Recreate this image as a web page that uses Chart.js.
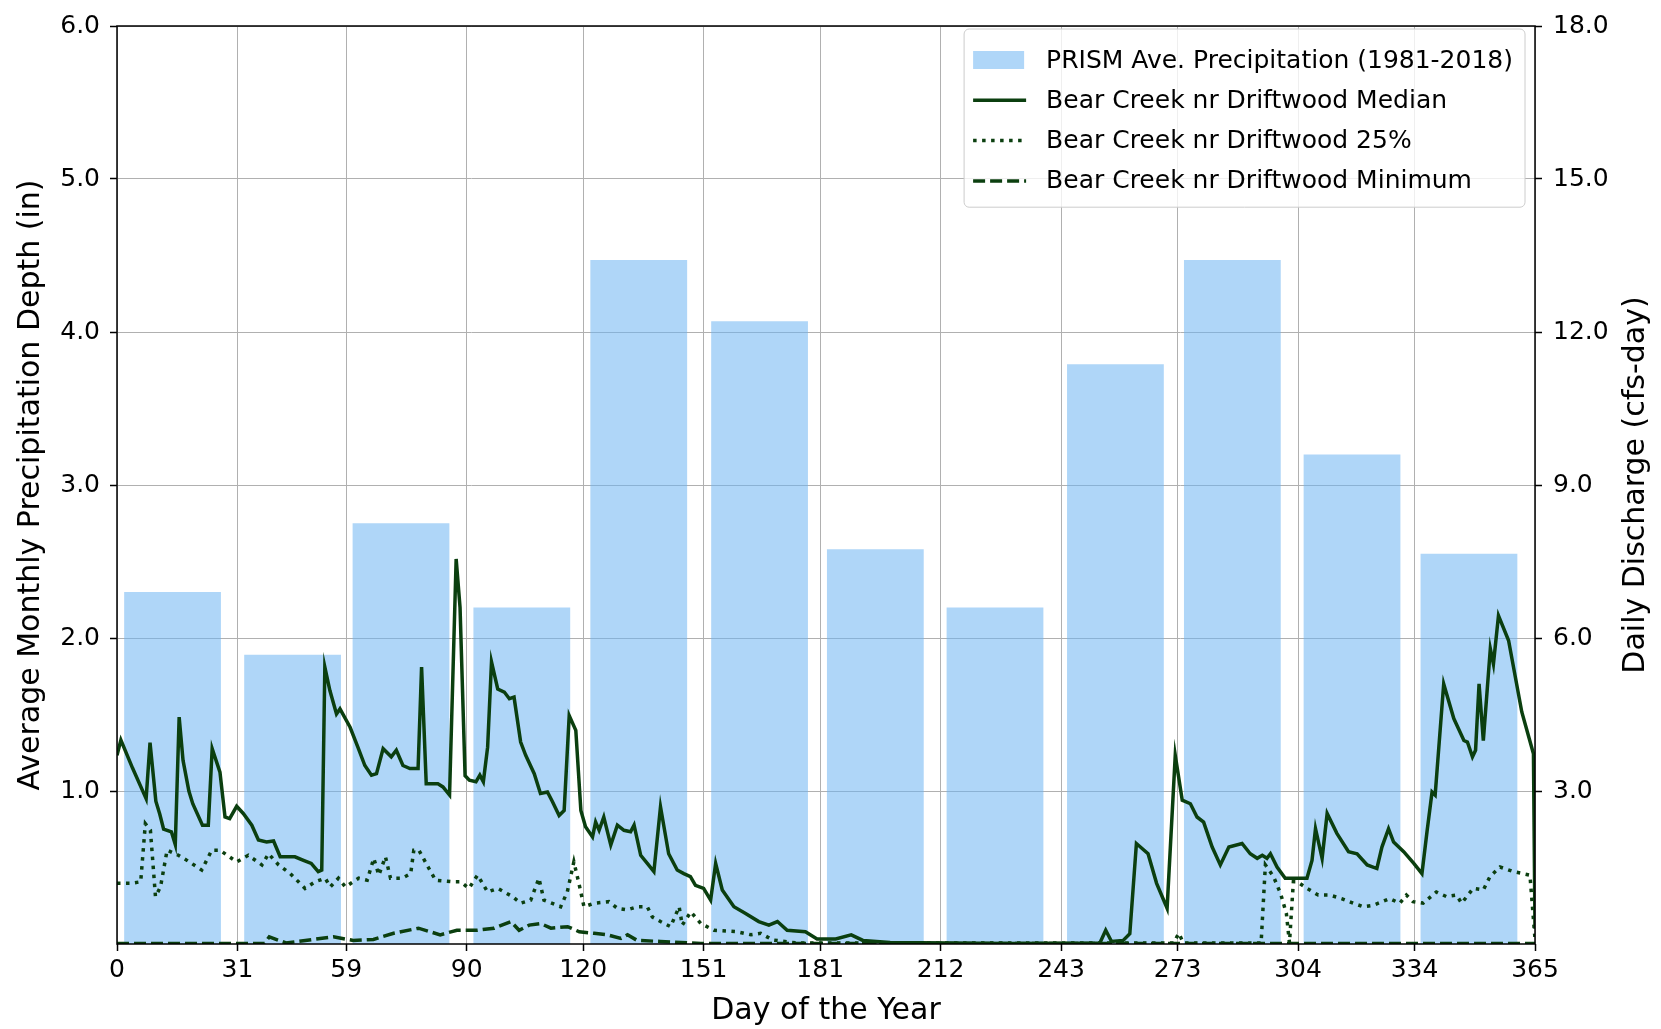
<!DOCTYPE html>
<html>
<head>
<meta charset="utf-8">
<title>Bear Creek nr Driftwood</title>
<script src="https://cdn.jsdelivr.net/npm/chart.js@4.4.1/dist/chart.umd.min.js"></script>
<style>
  html, body { margin: 0; padding: 0; background: #fff; }
  #wrap { width: 1661px; height: 1029px; }
</style>
</head>
<body>
<div id="wrap"><canvas id="myChart" width="1661" height="1029"></canvas></div>
<script>
'use strict';

//Data

let monthStarts = [0, 31, 59, 90, 120, 151, 181, 212, 243, 273, 304, 334, 365];
let leftTicks = [1, 2, 3, 4, 5, 6];
let rightTicks = [3, 6, 9, 12, 15, 18];

//monthly bars, placed by day of year
let barDays = [14.3, 45.2, 73.1, 104.2, 134.3, 165.4, 195.2, 226, 257, 287.1, 317.9, 348];
let precip = [2.30, 1.89, 2.75, 2.20, 4.47, 4.07, 2.58, 2.20, 3.79, 4.47, 3.20, 2.55];

//daily discharge, cfs-day
let medianDays = [0, 1, 4, 7.5, 8.5, 10, 11, 12, 14, 15, 16, 17, 18.5, 19.5, 22, 23.5, 24.5, 26.5, 27.8, 29,
  30.8, 32.5, 34.7, 36.4, 38.5, 40.3, 42, 45.8, 48, 50, 51.8, 52.7, 53.5, 54.8, 56.5, 57.4, 60, 62, 63.8, 65.5,
  66.8, 68.5, 70.6, 71.9, 73.6, 75.4, 77.5, 78.4, 79.6, 82.6, 83.9, 85.6, 87.3, 88.3, 89.6, 90.7, 92.4, 93.4, 94.3, 95.4,
  96.4, 98, 99.7, 101, 102.2, 103.9, 105.2, 107.4, 109, 110.8, 112.1, 113.8, 115.1, 116.4, 118.1, 119.4, 120.6, 122.4, 123.2, 124.1,
  125.3, 127.1, 128.8, 130.5, 132.2, 133.1, 134.8, 136.5, 138.2, 139.9, 142, 144.2, 145.9, 147.6, 148.9, 151, 152.8, 154.1, 155.8, 158.8,
  161.8, 165.2, 167.8, 170, 172.5, 177.2, 180.2, 185, 189, 192, 199, 230, 253, 254.5, 256, 259, 260.7, 262.4, 265.4, 267.6,
  270.3, 272.4, 274.2, 276.3, 278, 279.7, 281.9, 284, 286.2, 289.6, 291.7, 293.5, 294.8, 296, 296.9, 298.6, 300.7, 306.3, 307.6, 308.5,
  310.2, 311.5, 314, 317, 319.2, 321.8, 324.3, 325.6, 327.3, 328.6, 331.2, 333.8, 335.9, 337.2, 338.5, 339.3, 341.5, 344.1, 346.7, 347.6,
  348.9, 349.7, 350.6, 351.7, 353.5, 354.3, 355.6, 358.2, 361.6, 364.6, 365];
let medianFlow = [3.7, 4.0, 3.45, 2.85, 3.95, 2.8, 2.55, 2.25, 2.2, 1.95, 4.45, 3.6, 3.0, 2.75, 2.33, 2.33, 3.83, 3.37, 2.49, 2.46,
  2.7, 2.56, 2.33, 2.04, 2.0, 2.02, 1.71, 1.71, 1.64, 1.58, 1.42, 1.45, 5.43, 4.97, 4.51, 4.61, 4.25, 3.86, 3.5, 3.31,
  3.34, 3.83, 3.67, 3.8, 3.5, 3.44, 3.44, 5.43, 3.14, 3.14, 3.08, 2.92, 7.55, 6.6, 3.3, 3.21, 3.18, 3.31, 3.18, 3.86,
  5.53, 5.0, 4.94, 4.81, 4.84, 3.96, 3.7, 3.34, 2.95, 2.98, 2.79, 2.52, 2.62, 4.48, 4.19, 2.62, 2.3, 2.1, 2.39, 2.23,
  2.49, 1.94, 2.33, 2.23, 2.2, 2.33, 1.74, 1.58, 1.42, 2.69, 1.77, 1.45, 1.38, 1.32, 1.15, 1.09, 0.86, 1.58, 1.06, 0.73,
  0.6, 0.44, 0.37, 0.44, 0.27, 0.24, 0.1, 0.1, 0.18, 0.07, 0.03, 0.01, 0.02, 0.27, 0.05, 0.07, 0.2, 1.97, 1.77, 1.19,
  0.7, 3.7, 2.82, 2.75, 2.49, 2.39, 1.9, 1.55, 1.9, 1.97, 1.77, 1.68, 1.74, 1.68, 1.77, 1.51, 1.29, 1.29, 1.64, 2.26,
  1.68, 2.56, 2.17, 1.81, 1.77, 1.55, 1.48, 1.9, 2.26, 2.0, 1.81, 1.58, 1.38, 2.2, 2.98, 2.92, 5.1, 4.42, 3.99, 3.96,
  3.67, 3.8, 5.1, 3.99, 5.79, 5.49, 6.44, 5.95, 4.55, 3.73, 0.3];

let q25Days = [0, 3.6, 6.1, 7.3, 8.6, 9.9, 11.2, 12.9, 15.8, 18, 21.8, 24.4, 26.5, 30.8, 33.8, 37.3, 39, 41.6, 44.6, 48.4,
  51, 53.6, 54.9, 57, 58.8, 62.2, 64.4, 66.1, 67.4, 69.1, 70.4, 73.4, 75.6, 76.4, 77.7, 80.3, 82, 86.3, 88.5, 90.6,
  92.8, 95.4, 98, 101.8, 103.9, 106.5, 108.6, 109.9, 114.2, 115.9, 117.6, 118.9, 120.2, 122.8, 126.6, 128.8, 131.3, 133.9, 136.5, 137.8,
  139.9, 142.5, 144.7, 145.5, 147.7, 150.3, 153.7, 159.7, 163.2, 165.7, 168.7, 175, 272, 273.3, 274.5, 294.5, 295.6, 297.7, 299.5, 301,
  301.8, 302.8, 303.8, 306.3, 309.2, 312.2, 315.2, 318.2, 320.8, 323.4, 327.6, 330.2, 331.9, 333.6, 336.2, 339.6, 342.2, 344.8, 346.1, 349.1,
  351.7, 353.4, 356, 359.4, 363.7, 365];
let q25Flow = [1.19, 1.19, 1.22, 2.36, 2.23, 0.93, 1.12, 1.84, 1.74, 1.64, 1.45, 1.84, 1.84, 1.61, 1.74, 1.55, 1.77, 1.55, 1.38, 1.09,
  1.22, 1.29, 1.12, 1.29, 1.12, 1.29, 1.25, 1.68, 1.35, 1.71, 1.29, 1.29, 1.38, 1.84, 1.84, 1.48, 1.25, 1.22, 1.22, 1.09,
  1.35, 1.02, 1.09, 0.93, 0.8, 0.86, 1.29, 0.86, 0.73, 1.02, 1.61, 1.19, 0.73, 0.8, 0.83, 0.7, 0.67, 0.73, 0.73, 0.53,
  0.44, 0.34, 0.73, 0.37, 0.63, 0.4, 0.27, 0.24, 0.18, 0.21, 0.08, 0.02, 0.02, 0.21, 0.02, 0.02, 1.55, 1.32, 0.99, 0.6,
  0.02, 1.22, 1.22, 1.09, 0.96, 0.96, 0.89, 0.8, 0.73, 0.76, 0.89, 0.8, 0.96, 0.83, 0.8, 1.02, 0.93, 0.96, 0.8, 1.09,
  1.06, 1.32, 1.51, 1.42, 1.35, 0.1];

let minDays = [0, 38, 39.2, 43.5, 50.5, 55.7, 60.8, 66, 71.2, 77.6, 83.2, 87.5, 92.8, 97.1, 101.4, 103.5, 106.1, 109.1, 111.7, 116,
  119, 122.8, 126.2, 129.7, 131.4, 133.9, 139.9, 150.3, 365];
let minFlow = [0.01, 0.01, 0.14, 0.02, 0.09, 0.14, 0.07, 0.09, 0.21, 0.31, 0.18, 0.27, 0.27, 0.31, 0.44, 0.27, 0.37, 0.4, 0.31, 0.34,
  0.24, 0.21, 0.18, 0.11, 0.18, 0.07, 0.05, 0.01, 0.01];

let barColor = 'rgba(110, 180, 242, 0.55)';
let lineColor = '#0b3f0f';
let rightTitle = 'Daily Discharge (cfs-day)';

function toPoints(days, vals){
  let pts = [];
  for (let i = 0; i < days.length; i++) {
    pts.push({x: days[i], y: vals[i]});
  }
  return pts;
}

Chart.defaults.font.family = "'DejaVu Sans', sans-serif";
Chart.defaults.color = '#000';

//matplotlib style box round the plot
const frame = {
  id: 'frame',
  afterDatasetsDraw(chart){
    const a = chart.chartArea;
    const ctx = chart.ctx;
    ctx.save();
    ctx.strokeStyle = '#000';
    ctx.lineWidth = 1.5;
    ctx.strokeRect(a.left, a.top, a.right - a.left, a.bottom - a.top);
    ctx.restore();
  }
};

//right axis title reads bottom to top, like the left one
const rightAxisTitle = {
  id: 'rightAxisTitle',
  afterDraw(chart){
    const a = chart.chartArea;
    const ctx = chart.ctx;
    ctx.save();
    ctx.translate(chart.width - 25, (a.top + a.bottom) / 2);
    ctx.rotate(-Math.PI / 2);
    ctx.font = "30px 'DejaVu Sans'";
    ctx.fillStyle = '#000';
    ctx.textAlign = 'center';
    ctx.textBaseline = 'middle';
    ctx.fillText(rightTitle, 0, 0);
    ctx.restore();
  }
};

//legend in the upper right corner of the plot
const legendBox = {
  id: 'legendBox',
  afterDatasetsDraw(chart){
    const ctx = chart.ctx;
    const a = chart.chartArea;
    const sets = chart.data.datasets;
    ctx.save();
    ctx.font = "25px 'DejaVu Sans'";
    let textW = 0;
    sets.forEach(d => { textW = Math.max(textW, ctx.measureText(d.label).width); });
    const rowH = 40.3;
    const w = 9 + 53 + 20 + textW + 12;
    const h = rowH * sets.length + 17;
    const x = a.right - 10 - w;
    const y = a.top + 3;
    ctx.beginPath();
    ctx.roundRect(x, y, w, h, 5);
    ctx.fillStyle = 'rgba(255,255,255,0.8)';
    ctx.fill();
    ctx.strokeStyle = '#cccccc';
    ctx.lineWidth = 1;
    ctx.stroke();

    sets.forEach((d, i) => {
      const cy = y + 31 + i * rowH;
      if (d.type === 'line') {
        ctx.beginPath();
        ctx.setLineDash(d.borderDash || []);
        ctx.strokeStyle = d.borderColor;
        ctx.lineWidth = d.borderWidth;
        ctx.moveTo(x + 9, cy);
        ctx.lineTo(x + 62, cy);
        ctx.stroke();
        ctx.setLineDash([]);
      } else {
        ctx.fillStyle = d.backgroundColor;
        ctx.fillRect(x + 9, cy - 9, 51, 18);
      }
      ctx.fillStyle = '#000';
      ctx.textBaseline = 'middle';
      ctx.textAlign = 'left';
      ctx.fillText(d.label, x + 82, cy + 1);
    });
    ctx.restore();
  }
};

const data = {
  datasets: [{
    type: 'bar',
    label: 'PRISM Ave. Precipitation (1981-2018)',
    data: toPoints(barDays, precip),
    backgroundColor: barColor,
    borderWidth: 0,
    categoryPercentage: 1,
    barPercentage: 25 / 28,
    xAxisID: 'x',
    yAxisID: 'y',
    order: 10
  }, {
    type: 'line',
    label: 'Bear Creek nr Driftwood Median',
    data: toPoints(medianDays, medianFlow),
    borderColor: lineColor,
    borderWidth: 3.5,
    pointRadius: 0,
    tension: 0,
    xAxisID: 'x',
    yAxisID: 'y1',
    order: 1
  }, {
    type: 'line',
    label: 'Bear Creek nr Driftwood 25%',
    data: toPoints(q25Days, q25Flow),
    borderColor: lineColor,
    borderWidth: 3.5,
    borderDash: [3.5, 5.5],
    pointRadius: 0,
    tension: 0,
    xAxisID: 'x',
    yAxisID: 'y1',
    order: 2
  }, {
    type: 'line',
    label: 'Bear Creek nr Driftwood Minimum',
    data: toPoints(minDays, minFlow),
    borderColor: lineColor,
    borderWidth: 3.5,
    borderDash: [12, 5],
    pointRadius: 0,
    tension: 0,
    xAxisID: 'x',
    yAxisID: 'y1',
    order: 3
  }]
};

const config = {
  type: 'bar',
  data: data,
  options: {
    responsive: false,
    animation: false,
    devicePixelRatio: 1,
    layout: { padding: { top: 23, left: 0, right: 0, bottom: 0 } },
    plugins: {
      legend: { display: false },
      tooltip: { enabled: false }
    },
    scales: {
      x: {
        type: 'linear',
        position: 'bottom',
        min: 0,
        max: 365,
        offset: false,
        afterBuildTicks: (scale) => { scale.ticks = monthStarts.map(v => ({value: v})); },
        afterFit: (scale) => { scale.height = 85; },
        ticks: {
          font: { size: 25 },
          padding: 4,
          maxRotation: 0,
          autoSkip: false,
          callback: (v) => String(v)
        },
        grid: { offset: false, color: '#b0b0b0', lineWidth: 1, tickColor: '#000', tickLength: 7, tickWidth: 1.5 },
        border: { display: false },
        title: { display: true, text: 'Day of the Year', font: { size: 30 }, padding: { top: 0, bottom: 0 } }
      },
      y: {
        type: 'linear',
        position: 'left',
        min: 0,
        max: 6,
        afterBuildTicks: (scale) => { scale.ticks = leftTicks.map(v => ({value: v})); },
        afterFit: (scale) => { scale.width = 117; },
        ticks: { font: { size: 25 }, padding: 10, callback: (v) => v.toFixed(1) },
        grid: { color: '#b0b0b0', lineWidth: 1, tickColor: '#000', tickLength: 7, tickWidth: 1.5 },
        border: { display: false },
        title: { display: true, text: 'Average Monthly Precipitation Depth (in)', font: { size: 30 }, padding: { top: 13, bottom: 0 } }
      },
      y1: {
        type: 'linear',
        position: 'right',
        min: 0,
        max: 18,
        afterBuildTicks: (scale) => { scale.ticks = rightTicks.map(v => ({value: v})); },
        afterFit: (scale) => { scale.width = 126; },
        ticks: { font: { size: 25 }, padding: 11, callback: (v) => v.toFixed(1) },
        grid: { drawOnChartArea: false, tickColor: '#000', tickLength: 7, tickWidth: 1.5 },
        border: { display: false },
        title: { display: false }
      }
    }
  },
  plugins: [frame, legendBox, rightAxisTitle]
};

const myChart = new Chart(document.getElementById('myChart'), config);
</script>
</body>
</html>
